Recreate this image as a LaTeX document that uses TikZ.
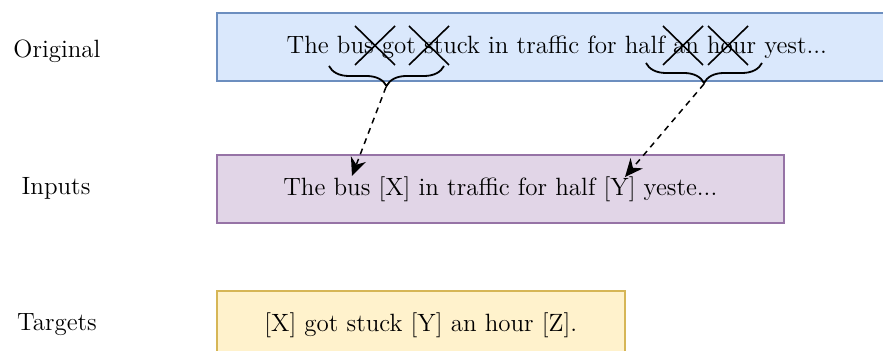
\documentclass[tikz,border=0pt]{standalone}
\usetikzlibrary{positioning,decorations.pathreplacing,arrows.meta}
\definecolor{origfill}{HTML}{DAE8FC}
\definecolor{origline}{HTML}{6C8EBF}
\definecolor{inpfill}{HTML}{E1D5E7}
\definecolor{inpline}{HTML}{9673A6}
\definecolor{tgtfill}{HTML}{FFF2CC}
\definecolor{tgtline}{HTML}{D6B656}
\begin{document}
\begin{tikzpicture}[x=0.5pt,y=-0.5pt,
        font=\fontsize{12.5}{15}\selectfont,
        row/.style={draw, line width=0.8pt, minimum height=34pt, inner sep=0pt, anchor=north west},
        cross/.style={line width=0.8pt},
        brc/.style={decorate, decoration={brace, mirror, amplitude=10pt}, line width=0.9pt},
        link/.style={dash pattern=on 3pt off 2.5pt, line width=0.75pt, -{Stealth[length=9pt,width=8pt]}}]
            \useasboundingbox (0,0) rectangle (883,351);
            \node[row, fill=origfill, draw=origline, minimum width=340pt] (orig) at (216,12) {The bus got stuck in traffic for half an hour yest...};
            \node[row, fill=inpfill, draw=inpline, minimum width=283.5pt] (inp) at (216,154) {The bus [X] in traffic for half [Y] yeste...};
            \node[row, fill=tgtfill, draw=tgtline, minimum width=204pt] (tgt) at (216,290) {[X] got stuck [Y] an hour [Z].};
            \node (origlab) at (57,51) {Original};
            \node (inplab) at (56,188) {Inputs};
            \node (tgtlab) at (57,325) {Targets};
            \foreach \cx in {375,429,683,728}
                \draw[cross] (\cx-20,26) -- (\cx+20,65) (\cx-20,65) -- (\cx+20,26);
            \draw[brc] (329,66) -- (444,66);
            \draw[brc] (646,63) -- (762,63);
            \coordinate (tipa) at (386,87);
            \coordinate (tipb) at (704,84);
            \coordinate (enda) at (352,176);
            \coordinate (endb) at (625,177);
            \draw[link] (tipa) -- (enda);
            \draw[link] (tipb) -- (endb);
        \end{tikzpicture}
\end{document}
